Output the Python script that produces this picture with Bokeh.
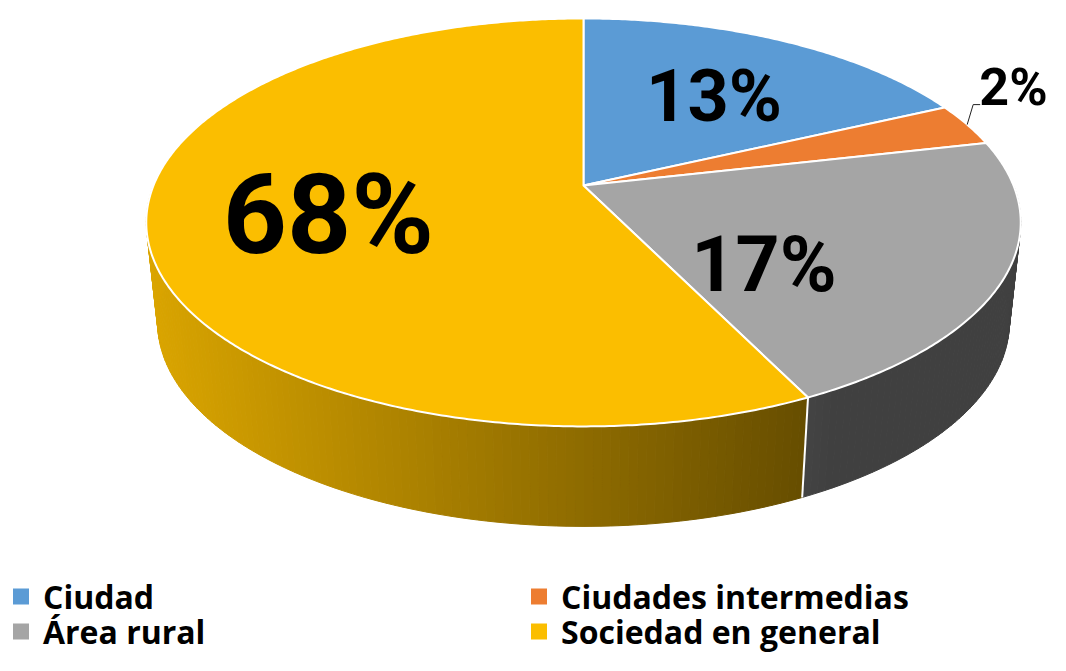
import numpy as np
from bokeh.plotting import figure
from bokeh.models import Range1d, ColumnDataSource
from bokeh.core.properties import value
from bokeh.embed import file_html
from bokeh.resources import INLINE

# ---------------- data ----------------
categories = ["Ciudad", "Ciudades intermedias", "Área rural", "Sociedad en general"]
label_pct = [13, 2, 17, 68]                 # data labels printed on the chart
slice_share = [18.0, 3.4, 21.4, 57.2]       # slice sizes as they appear drawn in the picture
top_colors = ["#5B9BD5", "#ED7D31", "#A5A5A5", "#FBBE00"]

# ---------------- layout ----------------
W, H = 1050, 655
X0, Y0 = 0, 0
CX, VY = 583.0, 185.0              # pie apex on screen
A, B, K = 430.0, 197.3, -0.181     # perspective projection of the disk
DEPTH, SB = 100.0, 0.974           # thickness of the 3D pie
BASE_SHIFT = 0.35                  # em correction for the rendered baseline

label_pos = [(713.5, 121), (1013, 105), (763.5, 291), (328, 253)]   # baselines
label_px = [72, 52, 77, 112]
legend_col_x = [20.5, 538.5]
legend_row_y = [596, 631]
legend_px = 32


def top_pt(theta):
    t = np.radians(theta)
    u, v = np.sin(t), -np.cos(t)
    d = 1 + K * v
    return CX + A * u / d, VY + B * v / d


def bot_pt(theta):
    x, y = top_pt(theta)
    return CX + SB * (x - CX), y + DEPTH


def shade(hexcol, f):
    h = hexcol.lstrip("#")
    r, g, b = (int(h[i:i + 2], 16) for i in (0, 2, 4))
    return "#%02x%02x%02x" % (int(r * f), int(g * f), int(b * f))


def shade_factor(x):
    return float(np.clip(0.87 - 0.46 * (x - 150) / 655, 0.39, 0.95))


p = figure(width=W, height=H, output_backend="svg", toolbar_location=None,
           x_range=Range1d(X0, X0 + W), y_range=Range1d(Y0 + H, Y0),
           x_axis_type=None, y_axis_type=None, min_border=0,
           outline_line_color=None, background_fill_color="white")
p.grid.visible = False

total = sum(slice_share)
bounds = np.concatenate([[0], np.cumsum(slice_share)]) / total * 360.0

# ---------------- side wall ----------------
sx, sy, sc = [], [], []
grid = np.arange(90.0, 270.01, 1.0)
cuts = sorted(set(list(grid) + [b for b in bounds if 90 < b < 270]))
for t0, t1 in zip(cuts[:-1], cuts[1:]):
    mid = 0.5 * (t0 + t1)
    idx = int(np.searchsorted(bounds, mid) - 1)
    xa, ya = top_pt(t0)
    xb, yb = top_pt(t1)
    xc, yc = bot_pt(t1)
    xd, yd = bot_pt(t0)
    col = shade(top_colors[idx], shade_factor(0.25 * (xa + xb + xc + xd)))
    sx.append([xa, xb, xc, xd])
    sy.append([ya, yb, yc, yd])
    sc.append(col)
p.patches(sx, sy, fill_color=sc, line_color=sc, line_width=1)

for b in bounds:
    if 90 < b < 270:
        xa, ya = top_pt(b)
        xd, yd = bot_pt(b)
        p.line([xa, xd], [ya, yd], line_color="white", line_width=2)

# ---------------- top face ----------------
tx, ty = [], []
for i in range(len(slice_share)):
    th = np.linspace(bounds[i], bounds[i + 1], max(3, int((bounds[i + 1] - bounds[i]) * 2)))
    pts = [top_pt(t) for t in th]
    tx.append([CX] + [q[0] for q in pts])
    ty.append([VY] + [q[1] for q in pts])
p.patches(tx, ty, fill_color=top_colors, line_color="white", line_width=2,
          line_join="round")

# ---------------- data labels ----------------
lab = ColumnDataSource(dict(x=[q[0] for q in label_pos],
                            y=[q[1] - BASE_SHIFT * s for q, s in zip(label_pos, label_px)],
                            t=["%d%%" % v for v in label_pct],
                            s=["%dpx" % s for s in label_px]))
p.text("x", "y", text="t", source=lab, text_font=value("Roboto"),
       text_font_style="bold", text_font_size="s", text_color="black",
       text_align="center", text_baseline="alphabetic")

# leader line for the small slice
mid_small = 0.5 * (bounds[1] + bounds[2])
lx, ly = top_pt(mid_small)
p.line([lx, lx + 6, lx + 13], [ly, ly - 20, ly - 20], line_color="#222222", line_width=1)

# ---------------- legend ----------------
lgx, lgy, lgc = [], [], []
for i, name in enumerate(categories):
    lgx.append(legend_col_x[i % 2])
    lgy.append(legend_row_y[i // 2])
    lgc.append(top_colors[i])
p.rect(lgx, lgy, width=16, height=16, fill_color=lgc, line_color=None)
leg = ColumnDataSource(dict(x=[v + 22 for v in lgx],
                            y=[v + 11 - BASE_SHIFT * legend_px for v in lgy], t=categories))
p.text("x", "y", text="t", source=leg, text_font=value("Open Sans"),
       text_font_style="bold", text_font_size="%dpx" % legend_px, text_color="black",
       text_align="left", text_baseline="alphabetic")

open("out.html", "w").write(file_html(p, INLINE))
